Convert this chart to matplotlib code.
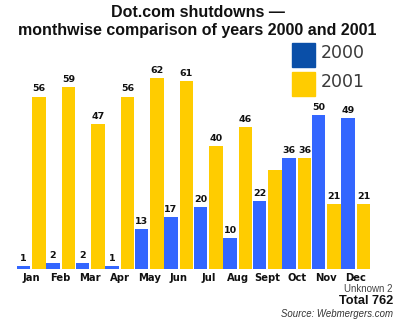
import matplotlib
matplotlib.use("Agg")
import matplotlib.pyplot as plt
import numpy as np

MONTHS = ["Jan", "Feb", "Mar", "Apr", "May", "Jun", "Jul", "Aug", "Sept", "Oct", "Nov", "Dec"]
Y2000 = [1, 2, 2, 1, 13, 17, 20, 10, 22, 36, 50, 49]
Y2001 = [56, 59, 47, 56, 62, 61, 40, 46, 32, 36, 21, 21]
UNLABELED_2001 = ["Sept"]
UNKNOWN = 2
TOTAL = 762

BLUE = "#3366FF"
YELLOW = "#FFCC00"
LEG_BLUE = "#0A4FA8"
W, H = 394, 322

fig = plt.figure(figsize=(W / 100, H / 100), dpi=100)
fig.patch.set_facecolor("white")

# axes placed in pixel terms: baseline at y=269, 3.08 px per unit
ax = fig.add_axes([10 / W, 53 / H, 374 / W, 215.6 / H])
ax.set_xlim(-0.72, 11.958)
ax.set_ylim(0, 70)
for s in ax.spines.values():
    s.set_visible(False)
ax.set_yticks([])

x = np.arange(len(MONTHS))
bw = 0.445
off = 0.2627
ax.bar(x - off, Y2000, width=bw, color=BLUE)
ax.bar(x + off, Y2001, width=bw, color=YELLOW)

lab = dict(ha="center", va="bottom", fontsize=6.8, fontweight="bold",
           color="#111111", family="DejaVu Sans")
for xi, v in zip(x, Y2000):
    ax.text(xi - off, v + 1.0, str(v), **lab)
for xi, v, m in zip(x, Y2001, MONTHS):
    if m not in UNLABELED_2001:
        ax.text(xi + off, v + 1.0, str(v), **lab)

ax.set_xticks(x)
ax.set_xticklabels(MONTHS, fontsize=7.2, fontweight="bold", family="DejaVu Sans",
                   color="#111111")
ax.tick_params(axis="x", length=0, pad=3)

# title
tf = dict(ha="center", va="baseline", fontsize=11.5, fontweight="bold",
          family="Liberation Sans", color="#111111")
fig.text(198 / W, 1 - 17 / H, "Dot.com shutdowns \u2014", **tf)
fig.text(197.5 / W, 1 - 35 / H, "monthwise comparison of years 2000 and 2001", **tf)

# legend
for y0, c, t in [(43, LEG_BLUE, "2000"), (72, YELLOW, "2001")]:
    fig.patches.append(plt.Rectangle((292 / W, 1 - (y0 + 24) / H), 23 / W, 24 / H,
                                     transform=fig.transFigure, color=c))
    fig.text(321 / W, 1 - (y0 + 15) / H, t, ha="left", va="baseline",
             fontsize=12.5, color="#3a3a3a", family="DejaVu Sans")

# notes
nf = ["Liberation Sans Narrow", "Liberation Sans"]
fig.text(393 / W, 1 - 292 / H, f"Unknown {UNKNOWN}", ha="right", va="baseline",
         fontsize=7, color="#444444", family=nf)
fig.text(393 / W, 1 - 304.5 / H, f"Total {TOTAL}", ha="right", va="baseline",
         fontsize=9.2, fontweight="bold", color="#111111", family=nf)
fig.text(393 / W, 1 - 317 / H, "Source: Webmergers.com", ha="right", va="baseline",
         fontsize=6.9, style="italic", color="#333333", family=nf)

fig.savefig("out.png", dpi=100, facecolor="white")
